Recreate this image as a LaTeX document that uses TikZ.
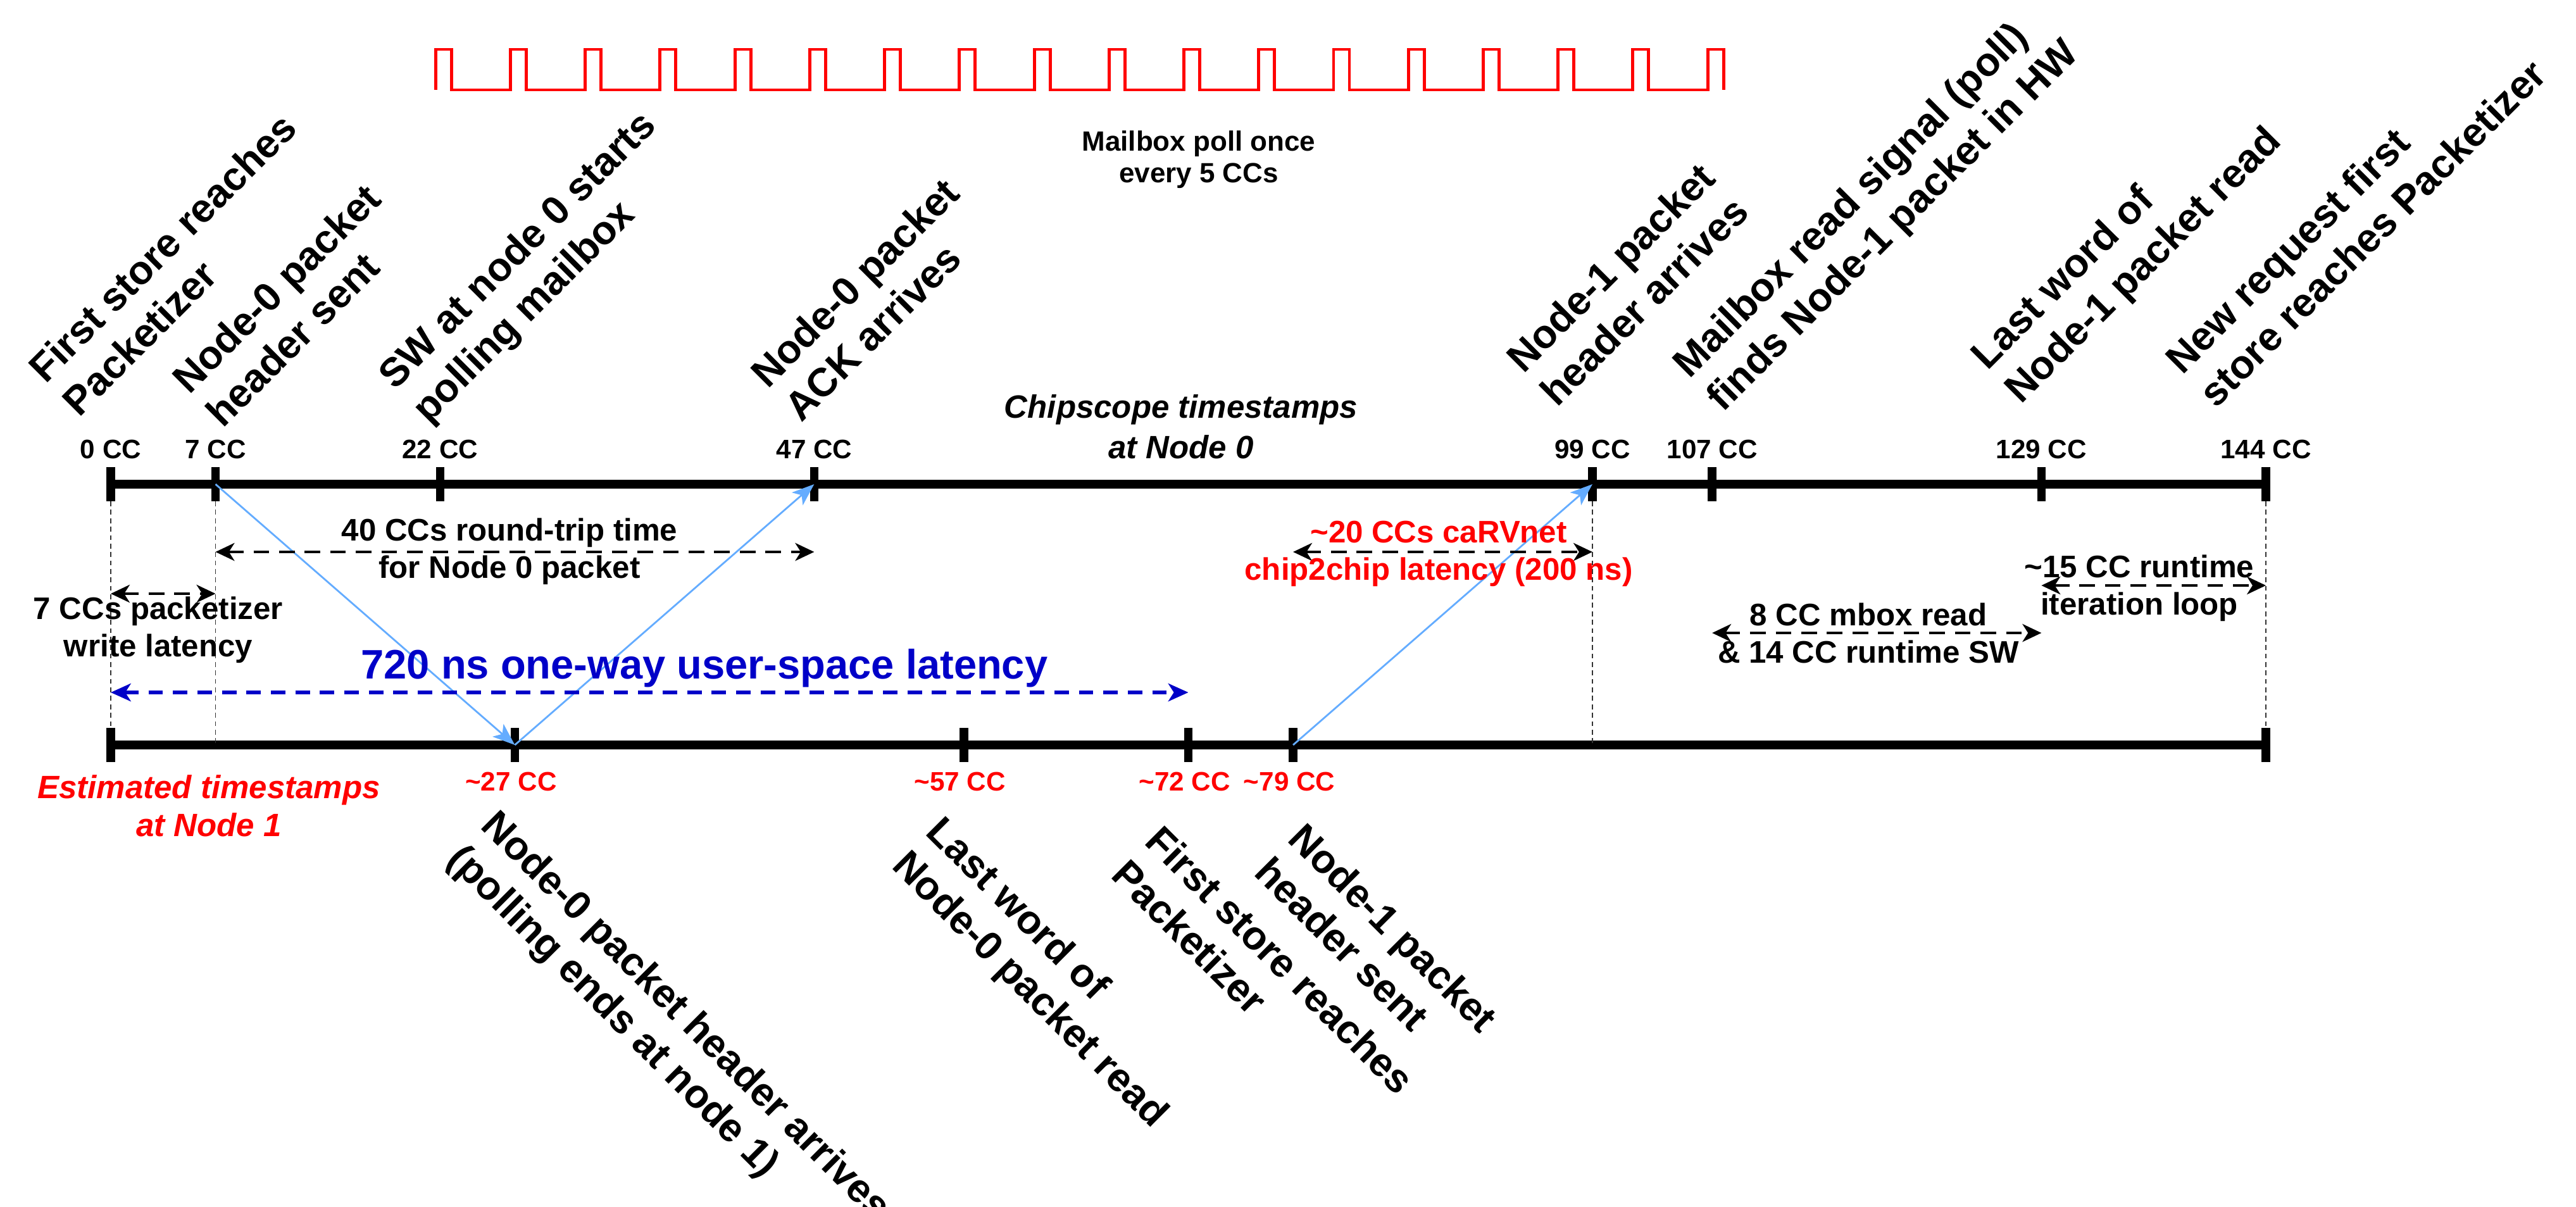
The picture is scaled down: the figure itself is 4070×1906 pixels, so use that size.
\documentclass[tikz,border=0pt]{standalone}
\usepackage{fontspec}
\setmainfont{Liberation Sans}
\usetikzlibrary{arrows.meta,calc}
\definecolor{msgblue}{RGB}{100,172,255}
\definecolor{latblue}{RGB}{0,0,200}
\definecolor{wavered}{RGB}{255,0,0}
\begin{document}
\begin{tikzpicture}[x=0.01cm,y=-0.01cm,
  axisline/.style={line width=3.8pt},
  tickmark/.style={line width=3.8pt},
  guide/.style={line width=0.45pt, dash pattern=on 2.2pt off 1.6pt, black!80},
  msg/.style={draw=msgblue, line width=0.8pt, -{Stealth[length=10pt,width=7.5pt,inset=2.5pt,fill=msgblue]}},
  span/.style={line width=1.3pt, dash pattern=on 7pt off 4.5pt, {Stealth[length=8.5pt,width=8pt,inset=2.5pt]}-{Stealth[length=8.5pt,width=8pt,inset=2.5pt]}},
  bluespan/.style={draw=latblue, line width=1.9pt, dash pattern=on 6.5pt off 4.5pt, {Stealth[length=9pt,width=8pt,inset=2.5pt,fill=latblue]}-{Stealth[length=9pt,width=8pt,inset=2.5pt,fill=latblue]}},
  cclab/.style={font=\fontsize{12}{14}\selectfont\bfseries, anchor=base, inner sep=0pt},
  evt/.style={font=\fontsize{18}{21.5}\selectfont\bfseries, align=left, inner sep=0pt, anchor=base west},
  evtup/.style={evt, rotate=45},
  evtdown/.style={evt, rotate=-45},
  note/.style={font=\fontsize{14}{16.5}\selectfont\bfseries, align=center, inner sep=0pt, anchor=base},
]
\useasboundingbox (0,0) rectangle (4070,1906);

% tick coordinates
\foreach \c in {0,7,22,47,99,107,129,144}
  \coordinate (t\c) at ({175+23.646*\c},765);
\foreach \c in {0,7,27,57,72,79,99,144}
  \coordinate (b\c) at ({175+23.646*\c},1177);

% axes
\draw[axisline] (t0) -- (t144);
\draw[axisline] (b0) -- (b144);
\foreach \c in {0,7,22,47,99,107,129,144}
  \draw[tickmark] (t\c) ++(0,-27) -- ++(0,54);
\foreach \c in {0,27,57,72,79,144}
  \draw[tickmark] (b\c) ++(0,-27) -- ++(0,54);

% guides
\draw[guide] ([yshift=-7.7pt]t0) -- ([yshift=7.7pt]b0);
\draw[guide] ([yshift=-7.7pt]t7) -- (b7);
\draw[guide] ([yshift=-7.7pt]t99) -- (b99);
\draw[guide] ([yshift=-7.7pt]t144) -- ([yshift=7.7pt]b144);

% axis labels
\foreach \c in {0,7,22,47,99,107,129,144}
  \node[cclab] (lt\c) at ({175+23.646*\c},724) {\c\ CC};
\foreach \c in {27,57,72,79}
  \node[cclab, text=red] (lb\c) at ({175+23.646*\c-6},1249) {\textasciitilde\c\ CC};

% messages
\draw[msg] (t7) -- (b27);
\draw[msg] (b27) -- (t47);
\draw[msg] (b79) -- (t99);

% spans
\coordinate (s7a) at ({175},938);       \coordinate (s7b) at ({175+23.646*7},938);
\coordinate (s40a) at ({175+23.646*7},872); \coordinate (s40b) at ({175+23.646*47},872);
\coordinate (s20a) at ({175+23.646*79},872); \coordinate (s20b) at ({175+23.646*99},872);
\coordinate (s8a) at ({175+23.646*107},1000); \coordinate (s8b) at ({175+23.646*129},1000);
\coordinate (s15a) at ({175+23.646*129},925); \coordinate (s15b) at ({175+23.646*144},925);
\coordinate (s720a) at ({175},1094); \coordinate (s720b) at ({175+23.646*72},1094);
\draw[span] (s7a) -- (s7b);
\draw[span] (s40a) -- (s40b);
\draw[span] (s20a) -- (s20b);
\draw[span] (s8a) -- (s8b);
\draw[span] (s15a) -- (s15b);
\draw[bluespan] (s720a) -- (s720b);

% notes (anchor = baseline of the last line)
\node[note] (n40) at (805,913) {40 CCs round-trip time\\for Node 0 packet};
\node[note] (n7) at (250,1037) {7 CCs packetizer\\write latency};
\node[note, text=red] (n20) at (2273,916) {\textasciitilde20 CCs caRVnet\\chip2chip latency (200 ns)};
\node[note] (n8) at (2952,1047) {8 CC mbox read\\\& 14 CC runtime SW};
\node[note] (n15) at (3380,971) {\textasciitilde15 CC runtime\\iteration loop};
\node[note, font=\fontsize{18.5}{21}\selectfont\bfseries, text=latblue] (n720) at (1113,1072) {720 ns one-way user-space latency};
\node[note, font=\fontsize{14.5}{18}\selectfont\bfseries\itshape] (chip) at (1866,724) {Chipscope timestamps\\at Node 0};
\node[note, font=\fontsize{14.5}{17}\selectfont\bfseries\itshape, text=red] (est) at (330,1321) {Estimated timestamps\\at Node 1};
\node[note, font=\fontsize{12.5}{14}\selectfont\bfseries] (mbox) at (1894,288) {Mailbox poll once\\every 5 CCs};

% poll wave
\draw[wavered, line width=1.4pt, line join=miter]
  ({175+23.646*22-7},142)
  foreach \c in {22,27,...,107} { -- ({175+23.646*\c-7},142) -- ++(0,-64) -- ++(25,0) -- ++(0,64) };

% events at node 0 (anchor = start of the last line)
\node[evtup] (e1) at (125,661) {First store reaches\\Packetizer};
\node[evtup] (e2) at (352,678) {Node-0 packet\\header sent};
\node[evtup] (e3) at (677,671) {SW at node 0 starts\\polling mailbox};
\node[evtup] (e4) at (1266,669) {Node-0 packet\\ACK arrives};
\node[evtup] (e5) at (2460,645) {Node-1 packet\\header arrives};
\node[evtup] (e6) at (2722,653) {Mailbox read signal (poll)\\finds Node-1 packet in HW};
\node[evtup] (e7) at (3193,640) {Last word of\\Node-1 packet read};
\node[evtup] (e8) at (3501,647) {New request first\\store reaches Packetizer};

% events at node 1
\node[evtdown] (f1) at (704,1360) {Node-0 packet header arrives\\(polling ends at node 1)};
\node[evtdown] (f2) at (1407,1370) {Last word of\\Node-0 packet read};
\node[evtdown] (f3) at (1753,1385) {First store reaches\\Packetizer};
\node[evtdown] (f4) at (1979,1381) {Node-1 packet\\header sent};
\end{tikzpicture}
\end{document}
